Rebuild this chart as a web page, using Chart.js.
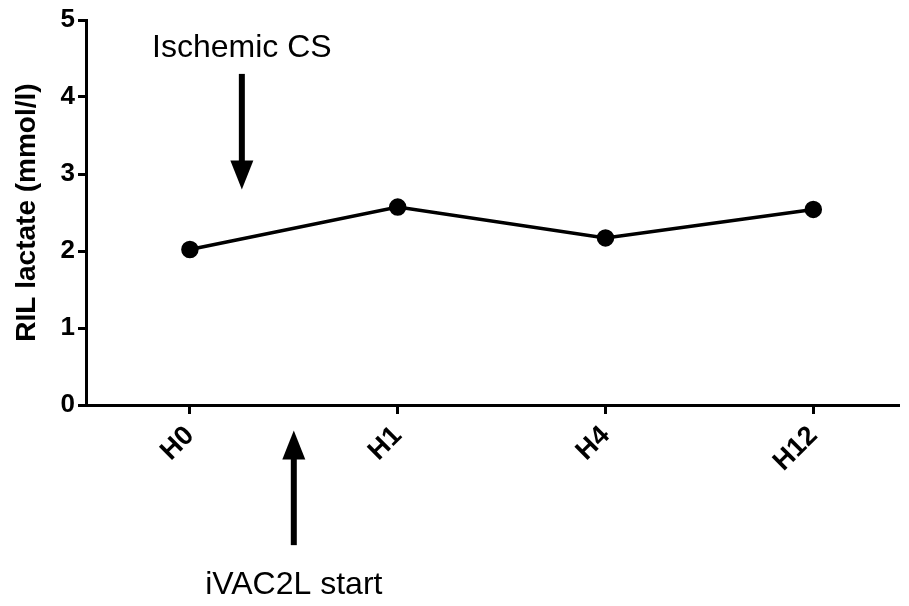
<!DOCTYPE html>
<html>
<head>
<meta charset="utf-8">
<script src="https://cdn.jsdelivr.net/npm/chart.js@4"></script>
<style>
  html, body { margin: 0; padding: 0; background: #fff; }
  #wrap { width: 909px; height: 606px; }
</style>
</head>
<body>
<div id="wrap"><canvas id="chart"></canvas></div>
<script>
/* DATA */
const timepoints = ["H0", "H1", "H4", "H12"];
const lactate = [2.02, 2.57, 2.17, 2.54];
const yTicks = [0, 1, 2, 3, 4, 5];

// arrows: x position (in timepoint units), y from/to (mmol/l units), label
const arrowX = [0.25, 0.5];
const arrowFrom = [4.3, -1.82];
const arrowTo = [2.8, -0.33];
const arrowText = ["Ischemic CS", "iVAC2L start"];
const arrowTextY = [4.64, -2.34];

const FONT = "'Liberation Sans', Arial, sans-serif";

/* ARROWS */
const arrowPlugin = {
  id: "arrows",
  afterDraw(chart){
    const ctx = chart.ctx;
    const xs = chart.scales.x;
    const ys = chart.scales.y;
    ctx.save();
    ctx.fillStyle = "#000";
    ctx.strokeStyle = "#000";
    arrowX.forEach((v, i) => {
      const px = xs.getPixelForValue(v);
      const y0 = ys.getPixelForValue(arrowFrom[i]);
      const y1 = ys.getPixelForValue(arrowTo[i]);
      const dir = y1 > y0 ? 1 : -1;
      const headLen = 29;
      const headW = 11.5;
      // shaft
      ctx.lineWidth = 6;
      ctx.beginPath();
      ctx.moveTo(px, y0);
      ctx.lineTo(px, y1 - dir * headLen + dir * 2);
      ctx.stroke();
      // head
      ctx.beginPath();
      ctx.moveTo(px, y1);
      ctx.lineTo(px - headW, y1 - dir * headLen);
      ctx.lineTo(px + headW, y1 - dir * headLen);
      ctx.closePath();
      ctx.fill();
      // label
      ctx.font = "32px " + FONT;
      ctx.textAlign = "center";
      ctx.textBaseline = "middle";
      ctx.fillText(arrowText[i], px, ys.getPixelForValue(arrowTextY[i]));
    });
    ctx.restore();
  }
};

/* CHART */
new Chart(document.getElementById("chart"), {
  type: "line",
  data: {
    datasets: [{
      data: lactate.map((v, i) => ({ x: i, y: v })),
      borderColor: "#000",
      backgroundColor: "#000",
      borderWidth: 3.5,
      pointRadius: 7,
      pointHoverRadius: 7,
      tension: 0
    }]
  },
  options: {
    responsive: true,
    maintainAspectRatio: false,
    animation: false,
    layout: { padding: { top: 20, right: 0, left: 0, bottom: 0 } },
    plugins: {
      legend: { display: false },
      tooltip: { enabled: false }
    },
    scales: {
      x: {
        type: "linear",
        min: -0.5,
        max: 3.41,
        afterBuildTicks: s => { s.ticks = timepoints.map((t, i) => ({ value: i })); },
        afterFit: s => { s.height = 201; },
        border: { display: true, color: "#000", width: 3 },
        grid: { drawOnChartArea: false, drawTicks: true, tickLength: 9, color: "#000", lineWidth: 3 },
        ticks: {
          color: "#000",
          font: { family: FONT, size: 27, weight: "bold" },
          minRotation: 45,
          maxRotation: 45,
          padding: 6,
          callback: v => timepoints[v]
        }
      },
      y: {
        min: 0,
        max: 5,
        afterBuildTicks: s => { s.ticks = yTicks.map(v => ({ value: v })); },
        afterFit: s => { s.width = 86; },
        border: { display: true, color: "#000", width: 3 },
        grid: { drawOnChartArea: false, drawTicks: true, tickLength: 8, color: "#000", lineWidth: 3 },
        title: {
          display: true,
          text: "RIL lactate (mmol/l)",
          color: "#000",
          font: { family: FONT, size: 28, weight: "bold" },
          padding: { top: 10, bottom: 0 }
        },
        ticks: {
          color: "#000",
          font: { family: FONT, size: 26, weight: "bold" },
          padding: 3
        }
      }
    }
  },
  plugins: [arrowPlugin]
});
</script>
</body>
</html>
